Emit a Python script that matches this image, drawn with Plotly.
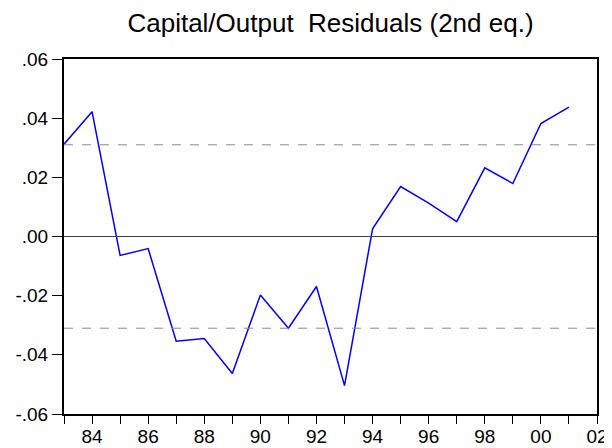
import plotly.graph_objects as go

# residual series, annual 1983-2001
years = list(range(1983, 2002))
residuals = [0.0312, 0.0422, -0.0064, -0.0041, -0.0354, -0.0345, -0.0463, -0.0198,
             -0.0310, -0.0169, -0.0504, 0.0026, 0.0169, 0.0113, 0.0050, 0.0232,
             0.0179, 0.0382, 0.0437]
band = 0.031  # reference lines at +/- band

x_tickvals = list(range(1984, 2003, 2))
x_ticktext = ["84", "86", "88", "90", "92", "94", "96", "98", "00", "02"]
y_tickvals = [-0.06, -0.04, -0.02, 0.0, 0.02, 0.04, 0.06]
y_ticktext = ["-.06", "-.04", "-.02", ".00", ".02", ".04", ".06"]

fig = go.Figure()

fig.add_trace(go.Scatter(
    x=years,
    y=residuals,
    mode="lines",
    line=dict(color="#0000ff", width=1.5),
    showlegend=False,
))

# zero line and dashed bands
fig.add_hline(y=0, line=dict(color="#404040", width=1))
fig.add_hline(y=band, line=dict(color="#8c8c8c", width=1, dash="dash"))
fig.add_hline(y=-band, line=dict(color="#8c8c8c", width=1, dash="dash"))

# the page body has an 8px margin, so the figure is sized to sit inside the window
fig.update_layout(
    width=604,
    height=440,
    margin=dict(l=56, r=15, t=51, b=34),
    paper_bgcolor="white",
    plot_bgcolor="white",
    font=dict(family="Arial, Liberation Sans, sans-serif", color="black", size=19),
    title=dict(
        text="Capital/Output  Residuals (2nd eq.)",
        x=0.5, xref="paper", xanchor="center",
        y=1 - 15 / 440, yref="container", yanchor="middle",
        font=dict(size=26),
    ),
    xaxis=dict(
        range=[1983, 2002],
        tickvals=x_tickvals,
        ticktext=x_ticktext,
        ticks="outside",
        ticklen=8,
        tickwidth=1,
        tickcolor="black",
        minor=dict(dtick=1, tick0=1983, ticks="outside", ticklen=8, tickcolor="black"),
        ticklabelstandoff=-4,
        showgrid=False,
        zeroline=False,
        showline=True,
        linecolor="black",
        linewidth=2,
        mirror=True,
        automargin=False,
        tickfont=dict(size=19),
    ),
    yaxis=dict(
        range=[-0.06, 0.06],
        tickvals=y_tickvals,
        ticktext=y_ticktext,
        ticks="outside",
        ticklen=10,
        tickwidth=1,
        tickcolor="black",
        showgrid=False,
        zeroline=False,
        showline=True,
        linecolor="black",
        linewidth=2,
        mirror=True,
        automargin=False,
        tickfont=dict(size=19),
    ),
)

fig.write_html("out.html")
